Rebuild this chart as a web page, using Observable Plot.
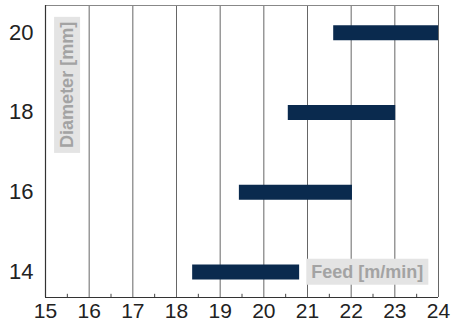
<!DOCTYPE html>
<html>
<head>
<meta charset="utf-8">
<script src="https://cdn.jsdelivr.net/npm/d3@7"></script>
<script src="https://cdn.jsdelivr.net/npm/@observablehq/plot@0.6"></script>
<style>
  html, body { margin: 0; padding: 0; background: #fff; }
  #chart { width: 452px; height: 324px; }
</style>
</head>
<body>
<div id="chart"></div>
<script>
// Data
const diameters = [14, 16, 18, 20];
const feedMin = [18.37, 19.44, 20.56, 21.6];
const feedMax = [20.82, 22.03, 23.02, 24];
const xTicks = [15, 16, 17, 18, 19, 20, 21, 22, 23, 24];
const xMinor = [15.5, 16.5, 17.5, 18.5, 19.5, 20.5, 21.5, 22.5, 23.5];
const yTicks = [14, 16, 18, 20];
const xLabel = "Feed [m/min]";
const yLabel = "Diameter [mm]";

const rows = diameters.map((d, i) => ({d, lo: feedMin[i], hi: feedMax[i]}));
const yDomain = [13.36, 20.68];
const font = "'Liberation Sans', Arial, Helvetica, sans-serif";

const chart = Plot.plot({
  width: 452,
  height: 324,
  marginLeft: 45,
  marginRight: 14,
  marginTop: 5,
  marginBottom: 27,
  style: {fontFamily: font, background: "#fff", overflow: "visible"},
  x: {domain: [15, 24]},
  y: {domain: yDomain},
  marks: [
    Plot.ruleX(xTicks, {stroke: "#666", strokeWidth: 1}),
    Plot.ruleY([yDomain[1]], {stroke: "#888", strokeWidth: 1.2}),
    Plot.ruleX([15], {stroke: "#333", strokeWidth: 1.2}),
    Plot.ruleY([yDomain[0]], {stroke: "#333", strokeWidth: 1.2}),
    Plot.ruleX(xMinor, {y1: yDomain[0], y2: yDomain[0] + 0.08, stroke: "#444"}),
    Plot.ruleY(rows, {y: "d", x1: "lo", x2: "hi", stroke: "#0a2a4e", strokeWidth: 15}),
    Plot.axisX({ticks: xTicks, tickSize: 0, tickPadding: 6, fontSize: 21, tickFormat: d => String(d), label: null, color: "#222"}),
    Plot.axisY({ticks: yTicks, tickSize: 0, tickPadding: 12, fontSize: 22, tickFormat: d => String(d), label: null, color: "#222"}),
    Plot.text([yLabel], {x: 15.5, y: 18.69, text: d => d, rotate: -90, fontSize: 18, fontWeight: "bold", fill: "#a3a3a3", textAnchor: "middle", className: "boxlabel"}),
    Plot.text([xLabel], {x: 22.37, y: 14, text: d => d, fontSize: 18, fontWeight: "bold", fill: "#a3a3a3", textAnchor: "middle", className: "boxlabel"})
  ]
});

document.getElementById("chart").appendChild(chart);

// add light grey boxes behind the axis labels
d3.select(chart).selectAll("g.boxlabel text").each(function() {
  const bb = this.getBBox();
  const padX = 5, padY = 4;
  const rect = document.createElementNS("http://www.w3.org/2000/svg", "rect");
  rect.setAttribute("x", bb.x - padX);
  rect.setAttribute("y", bb.y - padY + 1);
  rect.setAttribute("width", bb.width + 2 * padX);
  rect.setAttribute("height", bb.height + 2 * padY - 2);
  rect.setAttribute("fill", "#e4e4e4");
  const tr = this.getAttribute("transform");
  if (tr) rect.setAttribute("transform", tr);
  this.parentNode.insertBefore(rect, this);
});
</script>
</body>
</html>
